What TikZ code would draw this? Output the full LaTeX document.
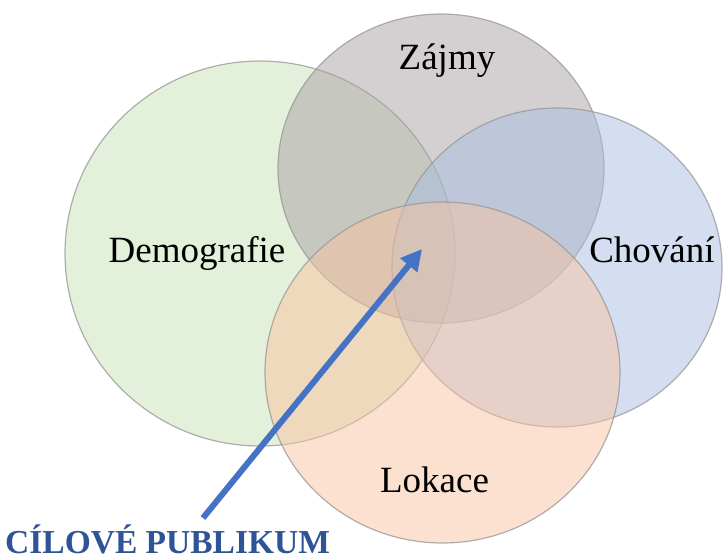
\documentclass[tikz,border=0pt]{standalone}
\usepackage{fontspec}
\setmainfont{Liberation Serif}
\usetikzlibrary{shapes.geometric,arrows.meta}
\definecolor{cgreen}{RGB}{199,225,181}
\definecolor{cgray}{RGB}{169,161,165}
\definecolor{cblue}{RGB}{169,189,225}
\definecolor{corange}{RGB}{249,195,161}
\definecolor{edgegray}{RGB}{150,150,150}
\definecolor{arrowblue}{RGB}{68,114,196}
\definecolor{titleblue}{RGB}{47,84,150}
\tikzset{
  setshape/.style={ellipse, inner sep=0pt, draw=edgegray, line width=1.2pt,
    fill opacity=0.5, draw opacity=0.75},
  setlabel/.style={font=\fontsize{37}{40}\selectfont, inner sep=0pt, anchor=base},
  targetlabel/.style={font=\fontsize{33.5}{36}\selectfont\bfseries, text=titleblue,
    inner sep=0pt, anchor=base west},
  pointer/.style={draw=arrowblue, line width=6pt,
    -{Triangle[length=21pt,width=21pt]}}
}
\begin{document}
\begin{tikzpicture}[x=1pt,y=-1pt]
\useasboundingbox (0,0) rectangle (723,559);
\node[setshape, fill=cgreen, minimum width=390pt, minimum height=385pt] (demo) at (260,253.5) {};
\node[setshape, fill=cgray, minimum width=326pt, minimum height=309pt] (zajmy) at (441,168.5) {};
\node[setshape, fill=cblue, minimum width=330pt, minimum height=319pt] (chov) at (557,267.5) {};
\node[setshape, fill=corange, minimum width=355pt, minimum height=341pt] (lok) at (442.5,372.5) {};
\node[setlabel] (tzajmy) at (447,70) {Zájmy};
\node[setlabel] (tdemo) at (197,262) {Demografie};
\node[setlabel] (tchov) at (652,262) {Chování};
\node[setlabel] (tlok) at (434.5,492) {Lokace};
\node[targetlabel] (target) at (5,553) {CÍLOVÉ PUBLIKUM};
\coordinate (arrowstart) at (203,518);
\coordinate (arrowtip) at (422,249);
\draw[pointer] (arrowstart) -- (arrowtip);
\end{tikzpicture}
\end{document}
